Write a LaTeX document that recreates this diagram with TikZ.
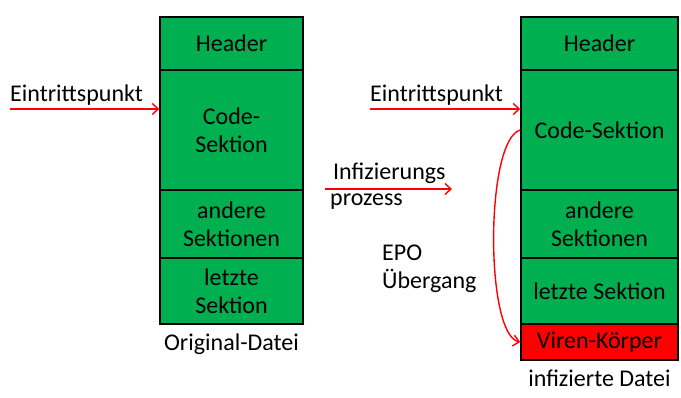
\documentclass[tikz,border=0pt]{standalone}
\usepackage{xcolor}
\usepackage{tikz}
\usepackage{fontspec}
\setmainfont{Carlito}
\usetikzlibrary{arrows.meta, positioning, calc}
\definecolor{sektgruen}{HTML}{00B050}
\definecolor{virenrot}{HTML}{FF0000}

\tikzset{
  sekt/.style={draw=black, line width=1.5pt, fill=sektgruen, align=center, inner sep=0pt},
  viren/.style={sekt, fill=virenrot},
  pfeil/.style={->, draw=virenrot, line width=1.4pt},
}

\begin{document}
\begin{tikzpicture}[x=1pt, y=-1pt, >={Straight Barb[length=6pt, width=11pt]}, font=\fontsize{24}{28}\selectfont]
  \useasboundingbox (0,0) rectangle (681,398);

  % Original-Datei
  \node[sekt, minimum width=143pt, minimum height=53pt] (head1) at (231.5,43.5) {Header};
  \node[sekt, minimum width=143pt, minimum height=120pt] (code1) at (231.5,130) {Code-\\Sektion};
  \node[sekt, minimum width=143pt, minimum height=68pt] (andere1) at (231.5,224) {andere\\Sektionen};
  \node[sekt, minimum width=143pt, minimum height=66pt] (letzte1) at (231.5,291) {letzte\\Sektion};
  \node[below=6pt of letzte1] (orig) {Original-Datei};

  % infizierte Datei
  \node[sekt, minimum width=157pt, minimum height=53pt] (head2) at (599.5,43.5) {Header};
  \node[sekt, minimum width=157pt, minimum height=120pt] (code2) at (599.5,130) {Code-Sektion};
  \node[sekt, minimum width=157pt, minimum height=68pt] (andere2) at (599.5,224) {andere\\Sektionen};
  \node[sekt, minimum width=157pt, minimum height=66pt] (letzte2) at (599.5,291) {letzte Sektion};
  \node[viren, minimum width=157pt, minimum height=36pt] (viren) at (599.5,342) {Viren-Körper};
  \node[below=6pt of viren] (infiz) {infizierte Datei};

  % Eintrittspunkte
  \coordinate (e1) at (10,109);
  \coordinate (e2) at (370,109);
  \draw[pfeil] (e1) -- (e1 -| code1.west);
  \draw[pfeil] (e2) -- (e2 -| code2.west);
  \node[above right, inner xsep=0pt] (et1) at (e1) {Eintrittspunkt};
  \node[above right, inner xsep=0pt] (et2) at (e2) {Eintrittspunkt};

  % Infizierungsprozess
  \coordinate (p1) at (325,189);
  \coordinate (p2) at (452,189);
  \draw[pfeil] (p1) -- (p2);
  \node[anchor=base west, inner sep=0pt] (inf) at (333,180) {Infizierungs};
  \node[anchor=base west, inner sep=0pt] (proz) at (330,206) {prozess};

  % EPO
  \node[anchor=west, align=left, inner sep=0pt] (epo) at (382,269) {EPO\\Übergang};
  \draw[pfeil] (code2.west) .. controls (485,140) and (485,335) .. (viren.west);
\end{tikzpicture}
\end{document}
